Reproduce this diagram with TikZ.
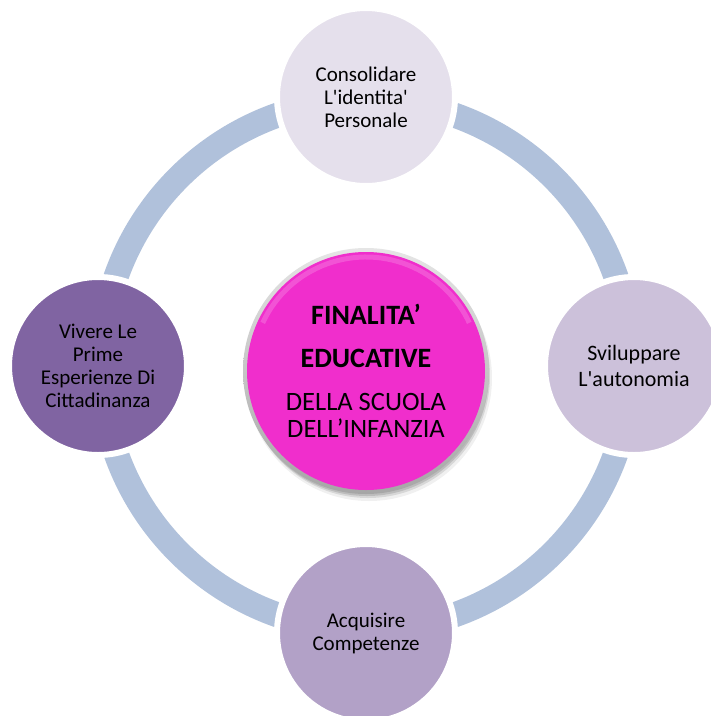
\documentclass[tikz,border=0pt]{standalone}
\usepackage{fontspec}
\setmainfont{Carlito}
\definecolor{ringc}{RGB}{176,193,219}
\definecolor{ctop}{RGB}{229,224,236}
\definecolor{cright}{RGB}{204,193,218}
\definecolor{cbottom}{RGB}{178,161,199}
\definecolor{cleft}{RGB}{128,100,162}
\definecolor{pinkc}{RGB}{240,46,204}
\tikzset{
  outer/.style={circle, minimum size=178pt, inner sep=0pt, draw=white, line width=6pt,
    align=center, text=black, font=\fontsize{21}{23}\selectfont},
  hub/.style={circle, fill=pinkc, minimum size=238pt, inner sep=0pt, align=center,
    text=black, font=\fontsize{26.5}{27}\selectfont},
  ringstyle/.style={draw=ringc, line width=25pt}
}
\begin{document}
\begin{tikzpicture}[x=1pt,y=-1pt]
\useasboundingbox (0,0) rectangle (711,716);
\clip (0,0) rectangle (711,716);
\fill[white] (0,0) rectangle (711,716);
\coordinate (O) at (366,365);
\draw[ringstyle] (O) circle [radius=265];
% outer circles
\node[outer, fill=ctop] (top) at (366,97) {Consolidare\\L\textquotesingle identita\textquotesingle\\Personale};
\node[outer, fill=cright, font=\fontsize{22}{26}\selectfont] (right) at (634,366) {Sviluppare\\L\textquotesingle autonomia};
\node[outer, fill=cbottom] (bottom) at (366,633) {Acquisire\\Competenze};
\node[outer, fill=cleft] (left) at (98,366) {Vivere Le\\Prime\\Esperienze Di\\Cittadinanza};
% central hub: shadow and bevel
\coordinate (C) at (366,371);
\fill[black, opacity=0.06] ([shift={(3,7)}]C) circle [radius=123];
\fill[black, opacity=0.10] ([shift={(2,5)}]C) circle [radius=122];
\fill[black, opacity=0.12] ([shift={(1,3)}]C) circle [radius=122];
\shade[top color=gray!20, bottom color=gray!70] (C) circle [radius=123];
\node[hub] (hub) at (C) {{\fontsize{28}{27}\selectfont\bfseries FINALITA’}\\[16pt]{\fontsize{28}{27}\selectfont\bfseries EDUCATIVE}\\[16pt]DELLA SCUOLA\\DELL’INFANZIA};
\draw[white, opacity=0.18, line width=5pt] ([shift={(205:114)}]C) arc [start angle=205, end angle=335, radius=114];
\end{tikzpicture}
\end{document}
